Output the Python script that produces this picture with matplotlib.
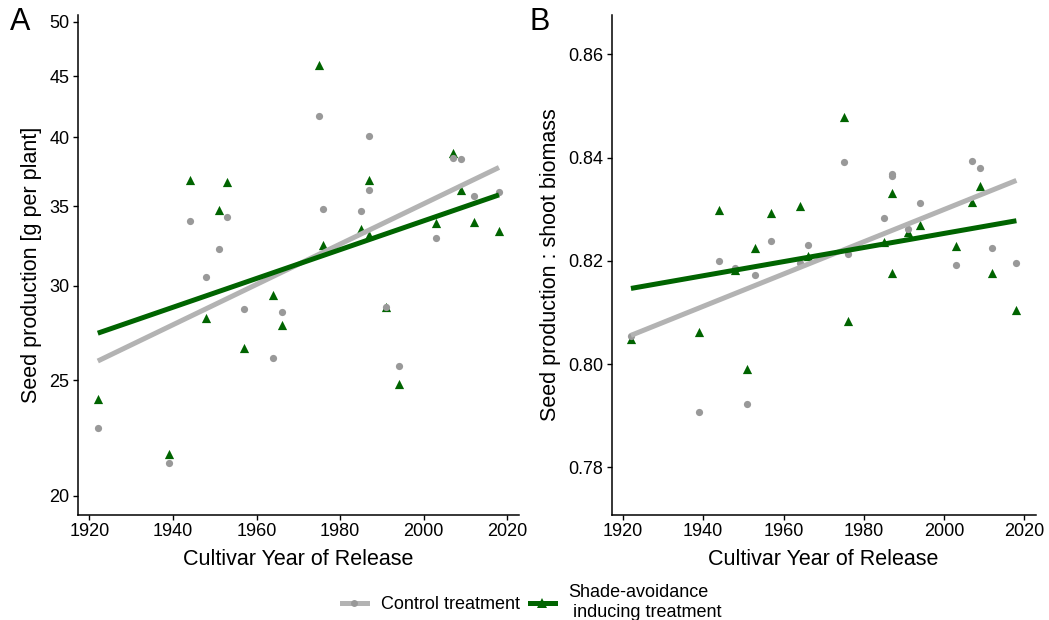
import numpy as np
import matplotlib
matplotlib.use("Agg")
import matplotlib.pyplot as plt
from matplotlib.lines import Line2D
from matplotlib.ticker import FixedLocator, FixedFormatter, NullLocator

plt.rcParams['font.family'] = ['Liberation Sans', 'DejaVu Sans']

# ---- data ----
years = [1922, 1939, 1944, 1948, 1951, 1953, 1957, 1964, 1966, 1975, 1976,
         1985, 1987, 1987, 1991, 1994, 2003, 2007, 2009, 2012, 2018]

seed_control = [22.8, 21.3, 34.0, 30.5, 32.2, 34.25, 28.7, 26.1, 28.55, 41.7, 34.8,
                34.7, 40.1, 36.1, 28.8, 25.7, 32.9, 38.45, 38.35, 35.7, 36.0]
seed_shade = [24.1, 21.7, 36.8, 28.2, 34.75, 36.7, 26.6, 29.5, 27.8, 45.97, 32.5,
              33.5, 36.8, 33.1, 28.8, 24.8, 33.9, 38.8, 36.1, 33.95, 33.35]

ratio_control = [0.8054, 0.7907, 0.8200, 0.8186, 0.7923, 0.8173, 0.8238, 0.8195, 0.8230,
                 0.8392, 0.8213, 0.8283, 0.8369, 0.8365, 0.8262, 0.8312, 0.8192,
                 0.8394, 0.8379, 0.8225, 0.8196]
ratio_shade = [0.8048, 0.8062, 0.8299, 0.8183, 0.7990, 0.8224, 0.8293, 0.8306, 0.8210,
               0.8479, 0.8083, 0.8236, 0.8332, 0.8177, 0.8256, 0.8269, 0.8229,
               0.8313, 0.8345, 0.8176, 0.8105]

x_ticks = [1920, 1940, 1960, 1980, 2000, 2020]
seed_ticks = [20, 25, 30, 35, 40, 45, 50]
ratio_ticks = [0.78, 0.80, 0.82, 0.84, 0.86]

labels = ["Control treatment", "Shade-avoidance\n inducing treatment"]
c_grey_pt = "#999999"
c_grey_ln = "#b3b3b3"
c_green = "#006400"

fig = plt.figure(figsize=(10.49, 6.2), dpi=100)
axA = fig.add_axes([0.0741, 0.1694, 0.4207, 0.8065])
axB = fig.add_axes([0.5831, 0.1694, 0.4042, 0.8065])

yr = np.array(years, dtype=float)
xfit = np.array([min(years), max(years)], dtype=float)


def style(ax):
    for s in ["top", "right"]:
        ax.spines[s].set_visible(False)
    for s in ["left", "bottom"]:
        ax.spines[s].set_linewidth(1.1)
        ax.spines[s].set_color("black")
    ax.tick_params(axis="both", which="major", length=3.5, width=1.0,
                   color="black", labelsize=13, labelcolor="black", pad=2.5)
    ax.set_xlim(1917.2, 2022.8)
    ax.xaxis.set_major_locator(FixedLocator(x_ticks))
    ax.set_xlabel("Cultivar Year of Release", fontsize=15.5, labelpad=6)


# Panel A (log scale)
axA.scatter(years, seed_shade, marker="^", s=44, color=c_green, linewidths=0, zorder=2)
axA.scatter(years, seed_control, marker="o", s=27, color=c_grey_pt, linewidths=0, zorder=3)
for vals, col in [(seed_control, c_grey_ln), (seed_shade, c_green)]:
    b, a = np.polyfit(yr, np.log10(vals), 1)
    axA.plot(xfit, 10 ** (a + b * xfit), color=col, lw=3.6, solid_capstyle="butt", zorder=4)
axA.set_yscale("log")
axA.set_ylim(19.27, 50.65)
axA.yaxis.set_major_locator(FixedLocator(seed_ticks))
axA.yaxis.set_major_formatter(FixedFormatter([str(t) for t in seed_ticks]))
axA.yaxis.set_minor_locator(NullLocator())
style(axA)
axA.set_ylabel("Seed production [g per plant]", fontsize=15.5, labelpad=5)

# Panel B (linear)
axB.scatter(years, ratio_shade, marker="^", s=44, color=c_green, linewidths=0, zorder=2)
axB.scatter(years, ratio_control, marker="o", s=27, color=c_grey_pt, linewidths=0, zorder=3)
for vals, col in [(ratio_control, c_grey_ln), (ratio_shade, c_green)]:
    b, a = np.polyfit(yr, vals, 1)
    axB.plot(xfit, a + b * xfit, color=col, lw=3.6, solid_capstyle="butt", zorder=4)
axB.set_ylim(0.7708, 0.8676)
axB.yaxis.set_major_locator(FixedLocator(ratio_ticks))
axB.yaxis.set_major_formatter(FixedFormatter([f"{t:.2f}" for t in ratio_ticks]))
style(axB)
axB.set_ylabel("Seed production : shoot biomass", fontsize=15.5, labelpad=5)

fig.text(0.009, 0.988, "A", fontsize=22, va="top", ha="left")
fig.text(0.505, 0.988, "B", fontsize=22, va="top", ha="left")

handles = [
    Line2D([0], [0], color=c_grey_ln, lw=3.6, marker="o", markersize=5,
           markerfacecolor=c_grey_pt, markeredgewidth=0),
    Line2D([0], [0], color=c_green, lw=3.6, marker="^", markersize=6.5,
           markerfacecolor=c_green, markeredgewidth=0),
]
fig.legend(handles, labels, loc="center", bbox_to_anchor=(0.507, 0.028), ncol=2,
           frameon=False, fontsize=13, handlelength=1.4, handletextpad=0.75,
           columnspacing=0.55, numpoints=1, borderaxespad=0)

fig.savefig("out.png", dpi=100)
